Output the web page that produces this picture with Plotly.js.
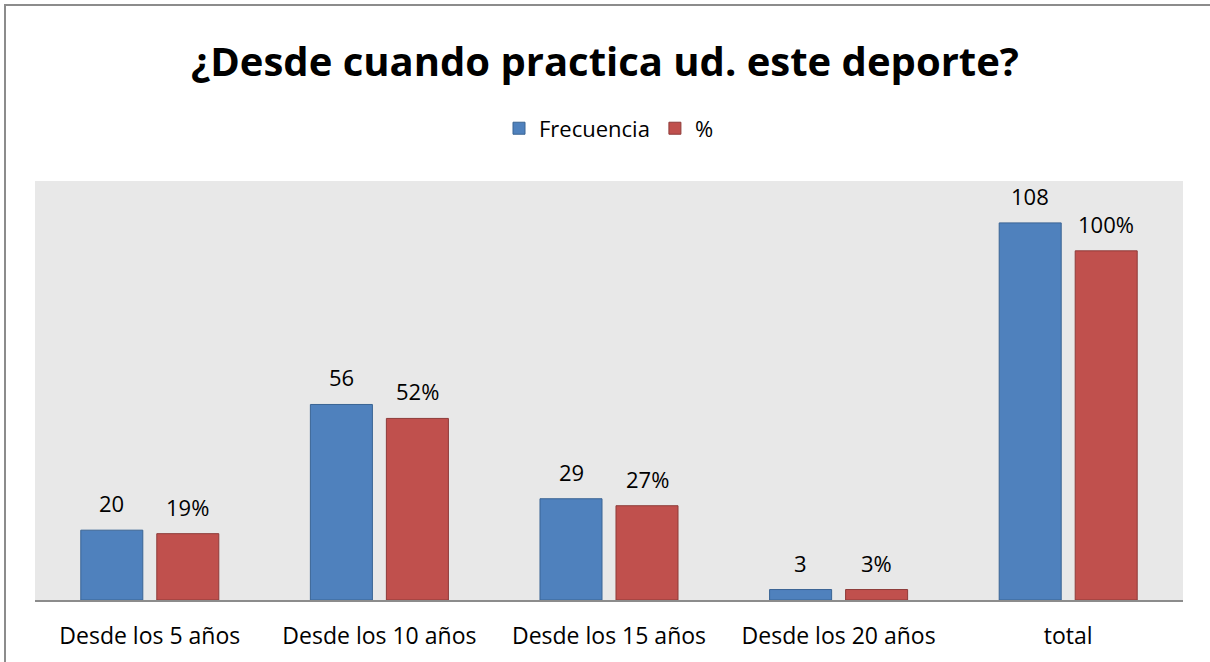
<!DOCTYPE html>
<html>
<head>
<meta charset="utf-8">
<script src="https://cdn.plot.ly/plotly-3.0.1.min.js"></script>
<style>html,body{margin:0;padding:0;background:#fff;}#chart{width:1210px;height:662px;}</style>
</head>
<body>
<div id="chart"></div>
<script>
var categories = ["Desde los 5 años", "Desde los 10 años", "Desde los 15 años", "Desde los 20 años", "total"];
var frecuencia = [20, 56, 29, 3, 108];
var porcentaje = [19, 52, 27, 3, 100];
var frecuenciaLabels = ["20", "56", "29", "3", "108"];
var porcentajeLabels = ["19%", "52%", "27%", "3%", "100%"];

var FONT = "Open Sans, Noto Sans, sans-serif";

var traces = [
  {type: "bar", name: "Frecuencia", x: categories, y: frecuencia,
   marker: {color: "#4F81BD", line: {color: "#3A6494", width: 1}}, hoverinfo: "x+y"},
  {type: "bar", name: "%", x: categories, y: porcentaje,
   marker: {color: "#C0504D", line: {color: "#8E3B39", width: 1}}, hoverinfo: "x+y"}
];

var annotations = [];
categories.forEach(function (c, i) {
  annotations.push({x: c, y: frecuencia[i], xref: "x", yref: "y", text: frecuenciaLabels[i],
    showarrow: false, xshift: -38, yshift: 27, font: {family: FONT, size: 22, color: "#000"}});
  annotations.push({x: c, y: porcentaje[i], xref: "x", yref: "y", text: porcentajeLabels[i],
    showarrow: false, xshift: 38, yshift: 27, font: {family: FONT, size: 22, color: "#000"}});
});

var layout = {
  width: 1210, height: 662,
  margin: {l: 35, r: 27, t: 181, b: 62},
  paper_bgcolor: "#ffffff",
  plot_bgcolor: "#e8e8e8",
  font: {family: FONT, size: 22, color: "#000"},
  title: {text: "<b>¿Desde cuando practica ud. este deporte?</b>", x: 0.5, xanchor: "center",
          y: 0.907, yanchor: "middle", yref: "container",
          font: {family: FONT, size: 40, color: "#000"}},
  showlegend: true,
  legend: {orientation: "h", x: 0.5, xanchor: "center", y: 0.806, yanchor: "middle", yref: "container",
           font: {family: FONT, size: 22, color: "#000"}, itemwidth: 30, traceorder: "normal"},
  barmode: "group",
  bargap: 0.338,
  bargroupgap: 0.184,
  xaxis: {type: "category", showline: true, linecolor: "#8c8c8c", linewidth: 2, ticks: "",
          showgrid: false, zeroline: false, tickfont: {family: FONT, size: 23, color: "#000"},
          ticklabelstandoff: 14},
  yaxis: {range: [0, 120], visible: false, showgrid: false, zeroline: false, fixedrange: true},
  annotations: annotations,
  shapes: [{type: "rect", xref: "paper", yref: "paper",
            x0: -30 / 1148, x1: 1 + 60 / 1148, y0: -80 / 419, y1: 1 + 176 / 419,
            line: {color: "#8c8c8c", width: 2}, fillcolor: "rgba(0,0,0,0)", layer: "below"}]
};

Plotly.newPlot("chart", traces, layout, {displayModeBar: false, staticPlot: true});
</script>
</body>
</html>
